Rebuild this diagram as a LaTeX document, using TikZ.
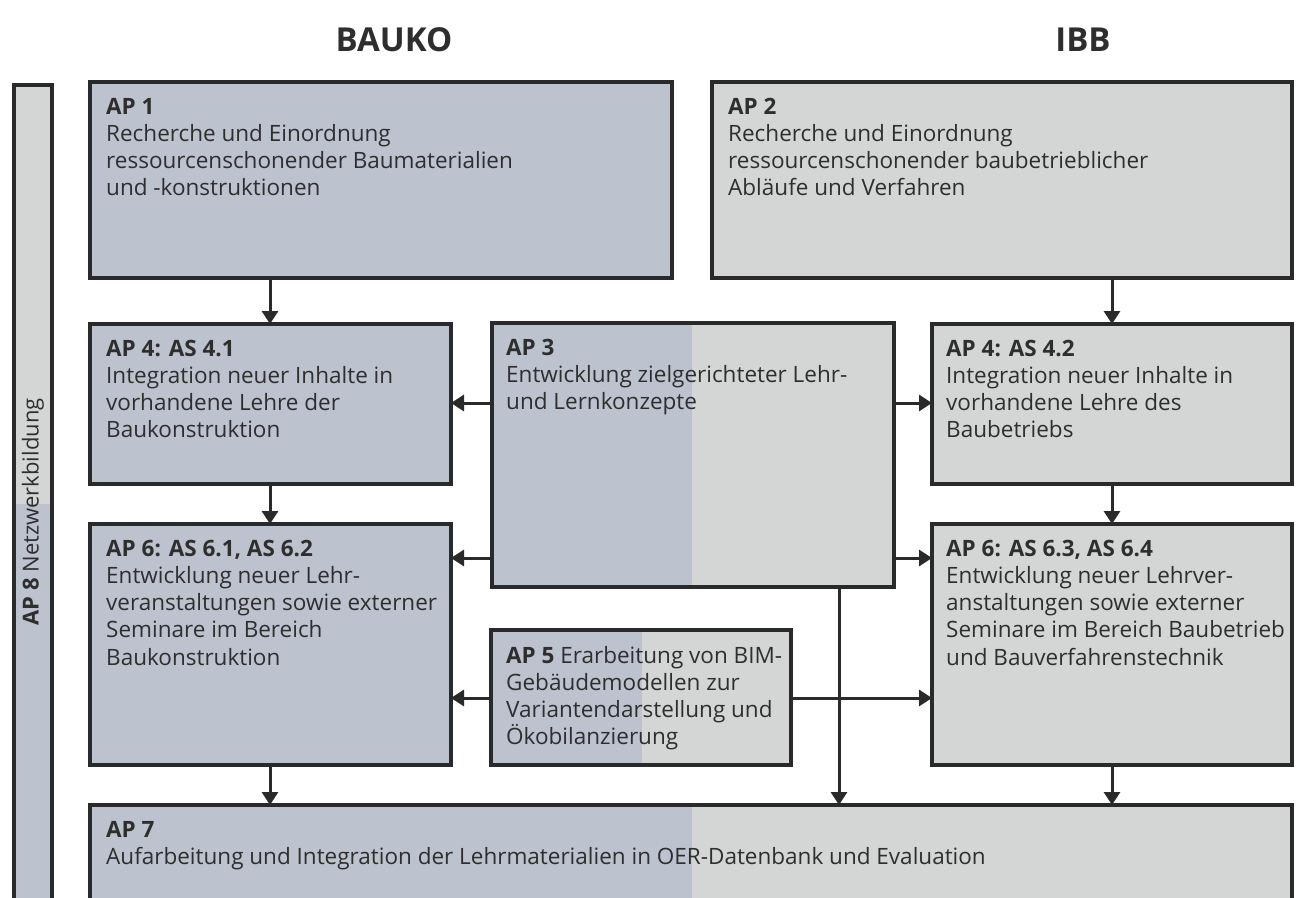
\documentclass[tikz,border=0pt]{standalone}
\usepackage{fontspec}
\setmainfont{Open Sans}
\usetikzlibrary{arrows.meta}
\definecolor{bk}{HTML}{BCC3CE}
\definecolor{ib}{HTML}{D4D6D6}
\definecolor{ln}{HTML}{2A2A2A}
\definecolor{tx}{HTML}{2E2E2E}
\newcommand{\mytb}[2]{\parbox[t]{#1}{\raggedright #2}}
\tikzset{
  box/.style={draw=ln, line width=4pt, inner sep=0pt, outer sep=0pt, anchor=north west},
  split/.style 2 args={path picture={
      \fill[bk] (path picture bounding box.north west) rectangle ([xshift=#1]path picture bounding box.south west);
      \fill[ib] ([xshift=#1]path picture bounding box.north west) rectangle (path picture bounding box.south east);}},
  txt/.style={anchor=base west, inner sep=0pt, text=tx, font=\fontsize{22.5}{27.3}\selectfont},
  title/.style={text=tx, font=\fontsize{33}{38}\selectfont\bfseries, inner sep=0pt},
  arr/.style={draw=ln, line width=3pt, -{Triangle[width=16pt,length=13pt]}}
}
\begin{document}
\begin{tikzpicture}[x=1pt,y=-1pt]
\clip (0,0) rectangle (1301,897);
% titles
\node[title] (tb) at (394,40) {BAUKO};
\node[title] (ti) at (1083,40) {IBB};
% AP 8 bar
\node[box, minimum width=38pt, minimum height=900pt,
  path picture={\fill[ib] (path picture bounding box.north west) rectangle ([yshift=-419pt]path picture bounding box.north east);
                \fill[bk] ([yshift=-419pt]path picture bounding box.north west) rectangle (path picture bounding box.south east);}]
  (ap8) at (14,85) {};
\node[rotate=90, inner sep=0pt, text=tx, font=\fontsize{22}{27}\selectfont] (t8) at (33,512) {\textbf{AP 8} Netzwerkbildung};
% boxes
\node[box, fill=bk, minimum width=582pt, minimum height=196pt] (ap1) at (90,82) {};
\node[box, fill=ib, minimum width=580pt, minimum height=196pt] (ap2) at (712,82) {};
\node[box, fill=bk, minimum width=361pt, minimum height=160pt] (ap41) at (90,324) {};
\node[box, split={200pt}{}, minimum width=402pt, minimum height=264pt] (ap3) at (492,323) {};
\node[box, fill=ib, minimum width=360pt, minimum height=160pt] (ap42) at (932,324) {};
\node[box, fill=bk, minimum width=361pt, minimum height=241pt] (ap61) at (90,524) {};
\node[box, fill=ib, minimum width=360pt, minimum height=241pt] (ap63) at (932,524) {};
\node[box, split={151pt}{}, minimum width=300pt, minimum height=135pt] (ap5) at (491,630) {};
\node[box, split={602pt}{}, minimum width=1202pt, minimum height=200pt] (ap7) at (90,805) {};
% texts
\node[txt] (t1) at ([shift={(16,32)}]ap1.north west) {\mytb{550pt}{\textbf{AP 1}\\Recherche und Einordnung\\ressourcenschonender Baumaterialien\\und -konstruktionen}};
\node[txt] (t2) at ([shift={(16,32)}]ap2.north west) {\mytb{550pt}{\textbf{AP 2}\\Recherche und Einordnung\\ressourcenschonender baubetrieblicher\\Abläufe und Verfahren}};
\node[txt] (t41) at ([shift={(16,32)}]ap41.north west) {\mytb{335pt}{\textbf{AP 4: AS 4.1}\\Integration neuer Inhalte in\\vorhandene Lehre der\\Baukonstruktion}};
\node[txt] (t3) at ([shift={(14,32)}]ap3.north west) {\mytb{380pt}{\textbf{AP 3}\\Entwicklung zielgerichteter Lehr-\\und Lernkonzepte}};
\node[txt] (t42) at ([shift={(14,32)}]ap42.north west) {\mytb{340pt}{\textbf{AP 4: AS 4.2}\\Integration neuer Inhalte in\\vorhandene Lehre des\\Baubetriebs}};
\node[txt] (t61) at ([shift={(16,32)}]ap61.north west) {\mytb{335pt}{\textbf{AP 6: AS 6.1, AS 6.2}\\Entwicklung neuer Lehr-\\veranstaltungen sowie externer\\Seminare im Bereich\\Baukonstruktion}};
\node[txt] (t63) at ([shift={(14,32)}]ap63.north west) {\mytb{350pt}{\textbf{AP 6: AS 6.3, AS 6.4}\\Entwicklung neuer Lehrver-\\anstaltungen sowie externer\\Seminare im Bereich Baubetrieb\\und Bauverfahrenstechnik}};
\node[txt] (t5) at ([shift={(15,33)}]ap5.north west) {\mytb{285pt}{\textbf{AP 5} Erarbeitung von BIM-\\Gebäudemodellen zur\\Variantendarstellung und\\Ökobilanzierung}};
\node[txt] (t7) at ([shift={(16,32)}]ap7.north west) {\mytb{1150pt}{\textbf{AP 7}\\Aufarbeitung und Integration der Lehrmaterialien in OER-Datenbank und Evaluation}};
% connector columns / rows
\coordinate (cl) at (270,0);
\coordinate (cr) at (1112,0);
\coordinate (cm) at (839,0);
\coordinate (r1) at (0,403);
\coordinate (r2) at (0,558);
\coordinate (r3) at (0,698);
% arrows
\draw[arr] (ap1.south -| cl) -- (ap41.north -| cl);
\draw[arr] (ap2.south -| cr) -- (ap42.north -| cr);
\draw[arr] (ap41.south -| cl) -- (ap61.north -| cl);
\draw[arr] (ap42.south -| cr) -- (ap63.north -| cr);
\draw[arr] (ap61.south -| cl) -- (ap7.north -| cl);
\draw[arr] (ap63.south -| cr) -- (ap7.north -| cr);
\draw[arr] (ap3.west |- r1) -- (ap41.east |- r1);
\draw[arr] (ap3.west |- r2) -- (ap61.east |- r2);
\draw[arr] (ap3.east |- r1) -- (ap42.west |- r1);
\draw[arr] (ap3.east |- r2) -- (ap63.west |- r2);
\draw[arr] (ap5.west |- r3) -- (ap61.east |- r3);
\draw[arr] (ap5.east |- r3) -- (ap63.west |- r3);
\draw[arr] (ap3.south -| cm) -- (ap7.north -| cm);
\end{tikzpicture}
\end{document}
